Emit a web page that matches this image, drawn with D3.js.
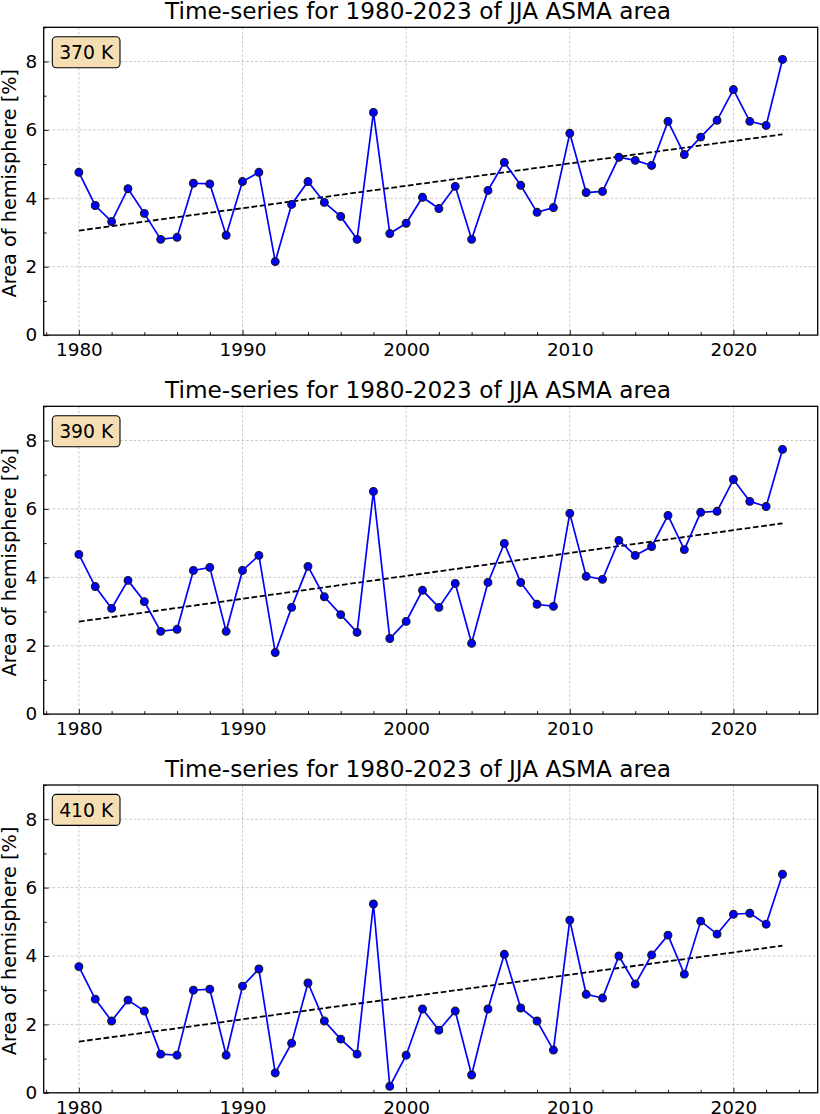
<!DOCTYPE html>
<html>
<head>
<meta charset="utf-8">
<script src="https://cdn.jsdelivr.net/npm/d3@7"></script>
<style>
  body { margin: 0; background: #fff; }
  svg text { font-family: "DejaVu Sans", sans-serif; fill: #000; }
</style>
</head>
<body>
<svg id="chart" width="820" height="1114"></svg>
<script>
// jaren 1980-2023
var years = d3.range(1980, 2024);

// ASMA oppervlakte (% van het halfrond) per niveau
var area370 = [4.76, 3.79, 3.32, 4.28, 3.56, 2.80, 2.86, 4.44, 4.42, 2.92,
  4.49, 4.76, 2.15, 3.82, 4.49, 3.88, 3.47, 2.80, 6.51, 2.97,
  3.27, 4.03, 3.70, 4.35, 2.80, 4.23, 5.05, 4.38, 3.59, 3.73,
  5.90, 4.17, 4.20, 5.20, 5.11, 4.96, 6.25, 5.28, 5.79, 6.28,
  7.18, 6.25, 6.13, 8.06];

var area390 = [4.67, 3.73, 3.09, 3.91, 3.29, 2.42, 2.48, 4.20, 4.29, 2.42,
  4.20, 4.64, 1.80, 3.12, 4.32, 3.43, 2.91, 2.39, 6.51, 2.21,
  2.71, 3.62, 3.12, 3.82, 2.07, 3.85, 4.99, 3.85, 3.21, 3.15,
  5.87, 4.03, 3.94, 5.08, 4.64, 4.90, 5.81, 4.81, 5.90, 5.93,
  6.86, 6.22, 6.07, 7.74];

var area410 = [3.69, 2.74, 2.10, 2.71, 2.39, 1.13, 1.10, 3.00, 3.03, 1.10,
  3.12, 3.62, 0.58, 1.45, 3.21, 2.10, 1.57, 1.13, 5.52, 0.19,
  1.10, 2.45, 1.83, 2.39, 0.52, 2.45, 4.05, 2.48, 2.10, 1.25,
  5.05, 2.88, 2.77, 4.00, 3.18, 4.03, 4.61, 3.47, 5.02, 4.64,
  5.22, 5.25, 4.93, 6.39];

var levels = ["370 K", "390 K", "410 K"];
var series = [area370, area390, area410];
var panelTops = [27.3, 406.3, 785];

var title = "Time-series for 1980-2023 of JJA ASMA area";
var yLabel = "Area of hemisphere [%]";
var xTicks = [1980, 1990, 2000, 2010, 2020];
var yTicks = [0, 2, 4, 6, 8];

var svg = d3.select("#chart"),
    left = 43.7,
    right = 817.7,
    ph = 307.8;

// x schaal met matplotlib marges (5%)
var x = d3.scaleLinear().domain([1977.85, 2025.15]).range([left, right]);

series.forEach(function (vals, i) {
  var top = panelTops[i];
  var y = d3.scaleLinear().domain([0, 9]).range([top + ph, top]);
  var g = svg.append("g");

  var data = years.map(function (yr, j) { return { jaar: yr, v: vals[j] }; });

  // grid
  g.selectAll(".gx").data(xTicks).enter().append("line")
    .attr("x1", function (d) { return x(d); }).attr("x2", function (d) { return x(d); })
    .attr("y1", top).attr("y2", top + ph)
    .attr("stroke", "#b0b0b0").attr("stroke-width", 0.7).attr("stroke-dasharray", "2.5,2");
  g.selectAll(".gy").data(yTicks.slice(1)).enter().append("line")
    .attr("x1", left).attr("x2", right)
    .attr("y1", function (d) { return y(d); }).attr("y2", function (d) { return y(d); })
    .attr("stroke", "#b0b0b0").attr("stroke-width", 0.7).attr("stroke-dasharray", "2.5,2");

  // trendlijn (lineaire regressie)
  var mx = d3.mean(years), my = d3.mean(vals);
  var slope = d3.sum(years, function (yr, j) { return (yr - mx) * (vals[j] - my); }) /
              d3.sum(years, function (yr) { return (yr - mx) * (yr - mx); });
  var b = my - slope * mx;
  g.append("line")
    .attr("x1", x(1980)).attr("y1", y(b + slope * 1980))
    .attr("x2", x(2023)).attr("y2", y(b + slope * 2023))
    .attr("stroke", "#000").attr("stroke-width", 1.8).attr("stroke-dasharray", "5.7,2.6");

  // lijn + punten
  var line = d3.line().x(function (d) { return x(d.jaar); }).y(function (d) { return y(d.v); });
  g.append("path").datum(data).attr("d", line)
    .attr("fill", "none").attr("stroke", "#0000ff").attr("stroke-width", 1.7);
  g.selectAll(".dot").data(data).enter().append("circle")
    .attr("cx", function (d) { return x(d.jaar); })
    .attr("cy", function (d) { return y(d.v); })
    .attr("r", 3.9)
    .attr("fill", "#0000ff").attr("stroke", "#1a1a1a").attr("stroke-width", 1.1);

  // assen met ticks naar binnen
  g.append("g").attr("transform", "translate(0," + (top + ph) + ")")
    .call(d3.axisBottom(x).tickValues(xTicks).tickFormat(d3.format("d")).tickSizeInner(-5).tickSizeOuter(0).tickPadding(8));
  g.append("g").attr("transform", "translate(0," + (top + ph) + ")")
    .call(d3.axisBottom(x).tickValues(d3.range(1978, 2026, 2).filter(function (d) { return d % 10 !== 0; }))
      .tickFormat("").tickSizeInner(-3).tickSizeOuter(0));
  g.append("g").attr("transform", "translate(" + left + ",0)")
    .call(d3.axisLeft(y).tickValues(yTicks).tickSizeInner(-5).tickSizeOuter(0).tickPadding(6.5));
  g.append("g").attr("transform", "translate(" + left + ",0)")
    .call(d3.axisLeft(y).tickValues([1, 3, 5, 7, 9]).tickFormat("").tickSizeInner(-3).tickSizeOuter(0));
  g.selectAll(".tick text").attr("font-size", 18.4).attr("font-family", "DejaVu Sans");
  g.selectAll(".tick line").attr("stroke", "#000").attr("stroke-width", 0.9);
  g.selectAll(".domain").remove();

  // kader
  g.append("rect").attr("x", left).attr("y", top).attr("width", right - left).attr("height", ph)
    .attr("fill", "none").attr("stroke", "#000").attr("stroke-width", 1.3);

  // titel
  g.append("text").attr("x", 418).attr("y", top - 8.5)
    .attr("text-anchor", "middle").attr("font-size", 23.2).text(title);

  // y label
  g.append("text").attr("transform", "translate(15.5," + (top + ph / 2 + 2) + ") rotate(-90)")
    .attr("text-anchor", "middle").attr("font-size", 19.3).text(yLabel);

  // label box
  g.append("rect").attr("x", 52.3).attr("y", top + 9.4).attr("width", 67.7).attr("height", 31)
    .attr("rx", 4).attr("fill", "#f5deb3").attr("stroke", "#000").attr("stroke-width", 1.1);
  g.append("text").attr("x", 86.2).attr("y", top + 32).attr("text-anchor", "middle")
    .attr("font-size", 18.8).text(levels[i]);
});
</script>
</body>
</html>
